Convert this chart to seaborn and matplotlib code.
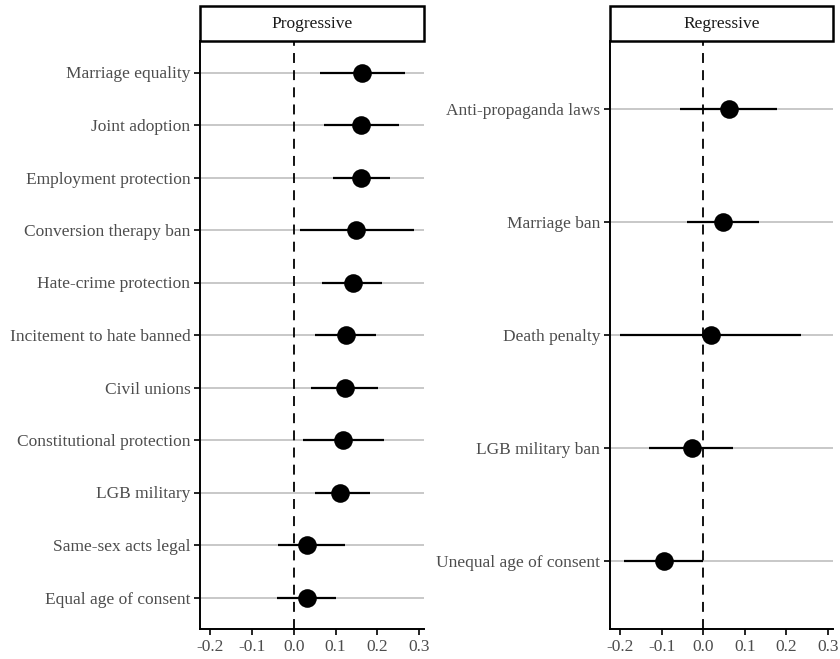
import matplotlib
matplotlib.use("Agg")
import matplotlib.pyplot as plt
from matplotlib.patches import Rectangle
import seaborn as sns
import pandas as pd

# Progressive policies: estimate and 95% interval
prog_labels = ["Marriage equality", "Joint adoption", "Employment protection",
               "Conversion therapy ban", "Hate-crime protection",
               "Incitement to hate banned", "Civil unions",
               "Constitutional protection", "LGB military",
               "Same-sex acts legal", "Equal age of consent"]
prog_est = [0.164, 0.162, 0.160, 0.150, 0.141, 0.124, 0.122, 0.118, 0.110, 0.032, 0.032]
prog_lo = [0.062, 0.072, 0.094, 0.014, 0.068, 0.050, 0.042, 0.021, 0.051, -0.037, -0.041]
prog_hi = [0.266, 0.253, 0.230, 0.288, 0.212, 0.198, 0.202, 0.217, 0.182, 0.122, 0.102]

# Regressive policies
reg_labels = ["Anti-propaganda laws", "Marriage ban", "Death penalty",
              "LGB military ban", "Unequal age of consent"]
reg_est = [0.061, 0.046, 0.018, -0.028, -0.094]
reg_lo = [-0.056, -0.040, -0.201, -0.130, -0.192]
reg_hi = [0.178, 0.134, 0.235, 0.072, 0.000]

x_ticks = [-0.2, -0.1, 0.0, 0.1, 0.2, 0.3]
x_ticklabels = ["-0.2", "-0.1", "0.0", "0.1", "0.2", "0.3"]

sns.set_theme(style="white")
plt.rcParams["font.family"] = ["Liberation Serif", "DejaVu Serif"]
TEXT = "#4d4d4d"

fig = plt.figure(figsize=(8.4, 6.59), dpi=100)
W, H = 840, 659
panels = [
    ("Progressive", prog_labels, prog_est, prog_lo, prog_hi, 200, 424),
    ("Regressive", reg_labels, reg_est, reg_lo, reg_hi, 610, 833),
]
top_px, bottom_px = 41, 629

for title, labels, est, lo, hi, x0, x1 in panels:
    ax = fig.add_axes([x0 / W, 1 - bottom_px / H, (x1 - x0) / W, (bottom_px - top_px) / H])
    df = pd.DataFrame({"label": labels, "est": est, "lo": lo, "hi": hi})
    df["pos"] = range(len(df))
    n = len(df)

    # light horizontal guides at each policy
    for p in df["pos"]:
        ax.axhline(p, color="#c4c4c4", lw=1.3, zorder=0)
    ax.axvline(0, color="black", lw=1.3, ls=(0, (5.5, 4)), zorder=1)
    ax.hlines(df["pos"], df["lo"], df["hi"], color="black", lw=1.6, zorder=2)
    sns.scatterplot(data=df, x="est", y="pos", ax=ax, s=180, color="black",
                    edgecolor="black", linewidth=0, zorder=3, legend=False)

    ax.set_xlim(-0.225, 0.312)
    ax.set_ylim(n - 1 + 0.6, -0.6)
    ax.set_xticks(x_ticks)
    ax.set_xticklabels(x_ticklabels)
    ax.set_yticks(df["pos"])
    ax.set_yticklabels(df["label"])
    ax.set_xlabel("")
    ax.set_ylabel("")
    ax.tick_params(axis="both", which="both", direction="out", length=4.5, width=1.2,
                   color="black", labelsize=12.5, labelcolor=TEXT, pad=2.5,
                   left=True, bottom=True)
    for s in ["top", "right"]:
        ax.spines[s].set_visible(False)
    for s in ["left", "bottom"]:
        ax.spines[s].set_color("black")
        ax.spines[s].set_linewidth(1.4)

    # facet strip above the panel
    strip_h = 35 / (bottom_px - top_px)
    ax.add_patch(Rectangle((0, 1), 1, strip_h, transform=ax.transAxes,
                           facecolor="white", edgecolor="black", lw=1.8,
                           clip_on=False, zorder=5))
    ax.text(0.5, 1 + strip_h / 2, title, transform=ax.transAxes, ha="center",
            va="center", fontsize=12.5, color="#1a1a1a", zorder=6)

fig.savefig("out.png", dpi=100)
